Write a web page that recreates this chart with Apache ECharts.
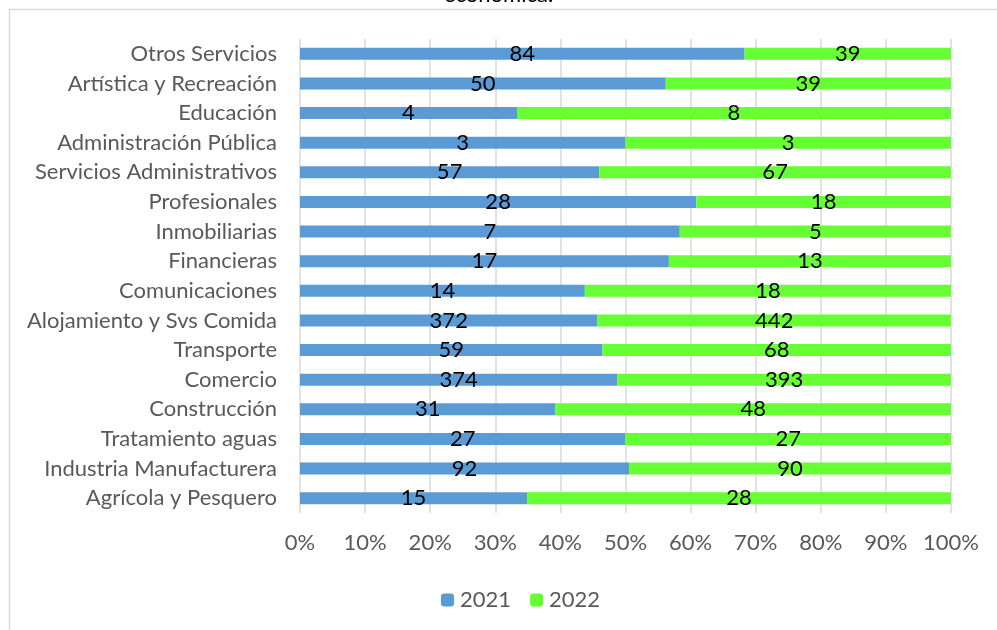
<!DOCTYPE html>
<html><head><meta charset="utf-8">
<script src="https://cdn.jsdelivr.net/npm/echarts@6/dist/echarts.min.js"></script>
<style>html,body{margin:0;padding:0;background:#fff}#c{width:997px;height:630px}</style>
</head><body><div id="c"></div>
<script>
const categories = ["Otros Servicios","Artística y Recreación","Educación","Administración Pública","Servicios Administrativos","Profesionales","Inmobiliarias","Financieras","Comunicaciones","Alojamiento y Svs Comida","Transporte","Comercio","Construcción","Tratamiento aguas","Industria Manufacturera","Agrícola y Pesquero"];
const values2021 = [84,50,4,3,57,28,7,17,14,372,59,374,31,27,92,15];
const values2022 = [39,39,8,3,67,18,5,13,18,442,68,393,48,27,90,28];
const xTicks = [0,10,20,30,40,50,60,70,80,90,100];

const FONT = 'Lato';
const FS = 22;
const pct = (a, b) => a.map((v, i) => v / (a[i] + b[i]) * 100);
const p21 = pct(values2021, values2022);
const p22 = pct(values2022, values2021);

const chart = echarts.init(document.getElementById('c'));
const labelStyle = (raw) => ({
  show: true, position: 'inside', color: '#000', fontSize: FS, fontFamily: FONT,
  formatter: p => String(raw[p.dataIndex])
});
chart.setOption({
  animation: false,
  textStyle: {fontFamily: FONT},
  graphic: [
    {type: 'rect', shape: {x: 9.5, y: 9.5, width: 1000, height: 700}, style: {fill: 'none', stroke: '#D9D9D9', lineWidth: 1.5}, silent: true},
    {type: 'text', left: 'center', top: -16, style: {text: 'económica.', fontSize: FS, fontFamily: FONT, fill: '#000'}}
  ],
  grid: {left: 300, right: 46, top: 39, bottom: 117, containLabel: false},
  xAxis: {
    type: 'value', min: xTicks[0], max: xTicks[xTicks.length - 1], interval: 10,
    axisLine: {show: false}, axisTick: {show: false},
    splitLine: {show: true, lineStyle: {color: '#D9D9D9', width: 1.5}},
    axisLabel: {formatter: '{value}%', color: '#595959', fontSize: FS, fontFamily: FONT, margin: 19}
  },
  yAxis: {
    type: 'category', data: categories, inverse: true,
    axisLine: {show: false}, axisTick: {show: false},
    axisLabel: {color: '#595959', fontSize: FS, fontFamily: FONT, margin: 23}
  },
  legend: {
    data: ['2021', '2022'], left: 436, top: 584, itemWidth: 13, itemHeight: 13, itemGap: 19,
    textStyle: {color: '#595959', fontSize: FS, fontFamily: FONT, padding: [0, 0, 0, 1]}
  },
  series: [
    {name: '2021', type: 'bar', stack: 't', data: p21, barWidth: 12, itemStyle: {color: '#5B9BD5'}, label: labelStyle(values2021)},
    {name: '2022', type: 'bar', stack: 't', data: p22, barWidth: 12, itemStyle: {color: '#66FF33'}, label: labelStyle(values2022)}
  ]
});
</script></body></html>
